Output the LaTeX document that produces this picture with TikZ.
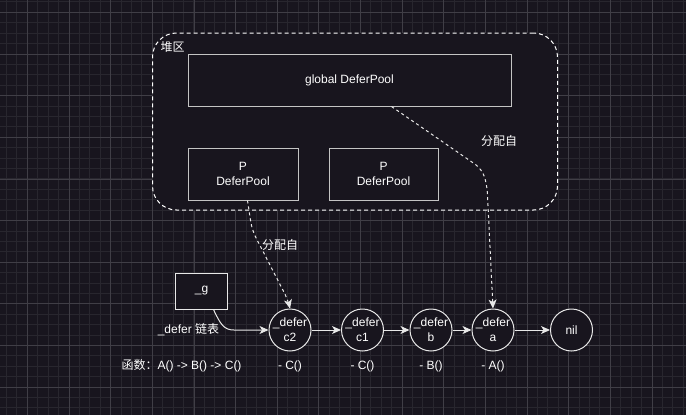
\documentclass[tikz,border=0pt]{standalone}
\usepackage{fontspec}
\setmainfont{Liberation Sans}
\newfontfamily\cjk{Noto Sans CJK SC}
\usetikzlibrary{arrows.meta}

\definecolor{canvas}{HTML}{18151E}
\definecolor{gridminor}{HTML}{28262E}
\definecolor{gridmajor}{HTML}{403E46}
\definecolor{edgeline}{HTML}{E8E8E8}
\definecolor{boxline}{HTML}{C4C4C4}

\tikzset{
  txt/.style={text=white, font=\fontsize{12}{15}\selectfont, inner sep=0pt},
  pool/.style={txt, draw=boxline, line width=1pt, fill=canvas, align=center},
  deferc/.style={txt, circle, draw=edgeline, line width=1pt, fill=canvas, minimum size=42pt, align=center, inner sep=-1pt},
  link/.style={draw=edgeline, line width=1pt, -{Stealth[length=9pt,width=8pt,inset=2.5pt]}},
  alloc/.style={link, dash pattern=on 3pt off 3pt, rounded corners=8pt}
}

\begin{document}
\begin{tikzpicture}[x=1pt,y=-1pt]
  \useasboundingbox (0,0) rectangle (686,415);
  \fill[canvas] (0,0) rectangle (686,415);
  % grid
  \foreach \k in {0,...,66} \draw[gridminor, line width=0.8pt] ({-3.93+10.41*\k},0) -- ({-3.93+10.41*\k},415);
  \foreach \k in {0,...,40} \draw[gridminor, line width=0.8pt] (0,{1.89+10.41*\k}) -- (686,{1.89+10.41*\k});
  \foreach \k in {0,...,16} \draw[gridmajor, line width=0.8pt] ({27.3+41.65*\k},0) -- ({27.3+41.65*\k},415);
  \foreach \k in {0,...,9} \draw[gridmajor, line width=0.8pt] (0,{12.3+41.65*\k}) -- (686,{12.3+41.65*\k});

  % heap
  \node[draw=white, fill=canvas, line width=1pt, dash pattern=on 4pt off 3pt, rounded corners=24pt,
        minimum width=405pt, minimum height=177pt] (heap) at (355,121.5) {};
  \node[txt, anchor=west] (heaplabel) at (160.5,47) {\cjk 堆区};
  \node[pool, minimum width=323pt, minimum height=52pt] (global) at (349.5,80) {global DeferPool};
  \node[pool, minimum width=110pt, minimum height=52pt] (pa) at (243,174) {P\\DeferPool};
  \node[pool, minimum width=109pt, minimum height=52pt] (pb) at (383.5,174) {P\\DeferPool};

  % defer chain
  \node[pool, draw=edgeline, minimum width=52pt, minimum height=36pt] (g) at (201.5,291) {\_g};
  \node[deferc] (c2) at (290,330) {\_defer\\c2};
  \node[deferc] (c1) at (362.5,330) {\_defer\\c1};
  \node[deferc] (b) at (431,330) {\_defer\\b};
  \node[deferc] (a) at (493,330) {\_defer\\a};
  \node[deferc] (nil) at (571.5,330) {nil};

  \node[txt] (glabel) at (188.5,330) {\_defer {\cjk 链表}};
  \node[txt] (func) at (181.5,366) {{\cjk 函数：}A() -> B() -> C()};
  \node[txt] (fc2) at (290,366) {- C()};
  \node[txt] (fc1) at (362.5,366) {- C()};
  \node[txt] (fb) at (431,366) {- B()};
  \node[txt] (fa) at (493,366) {- A()};
  \node[txt] (allocp) at (280,245) {\cjk 分配自};
  \node[txt] (allocg) at (499,141) {\cjk 分配自};

  \coordinate (gbend) at (234,330);
  \draw[link] ([xshift=12pt]g.south) .. controls +(7,15) and +(-10,0) .. (gbend) -- (c2);
  \draw[link] (c2) -- (c1);
  \draw[link] (c1) -- (b);
  \draw[link] (b) -- (a);
  \draw[link] (a) -- (nil);
  \draw[alloc] ([xshift=4.5pt]pa.south) -- (252,230) -- (288,300) -- (c2.north);
  \draw[alloc] ([xshift=42pt]global.south) -- (482,169) -- (487,185) -- (a.north);
\end{tikzpicture}
\end{document}
